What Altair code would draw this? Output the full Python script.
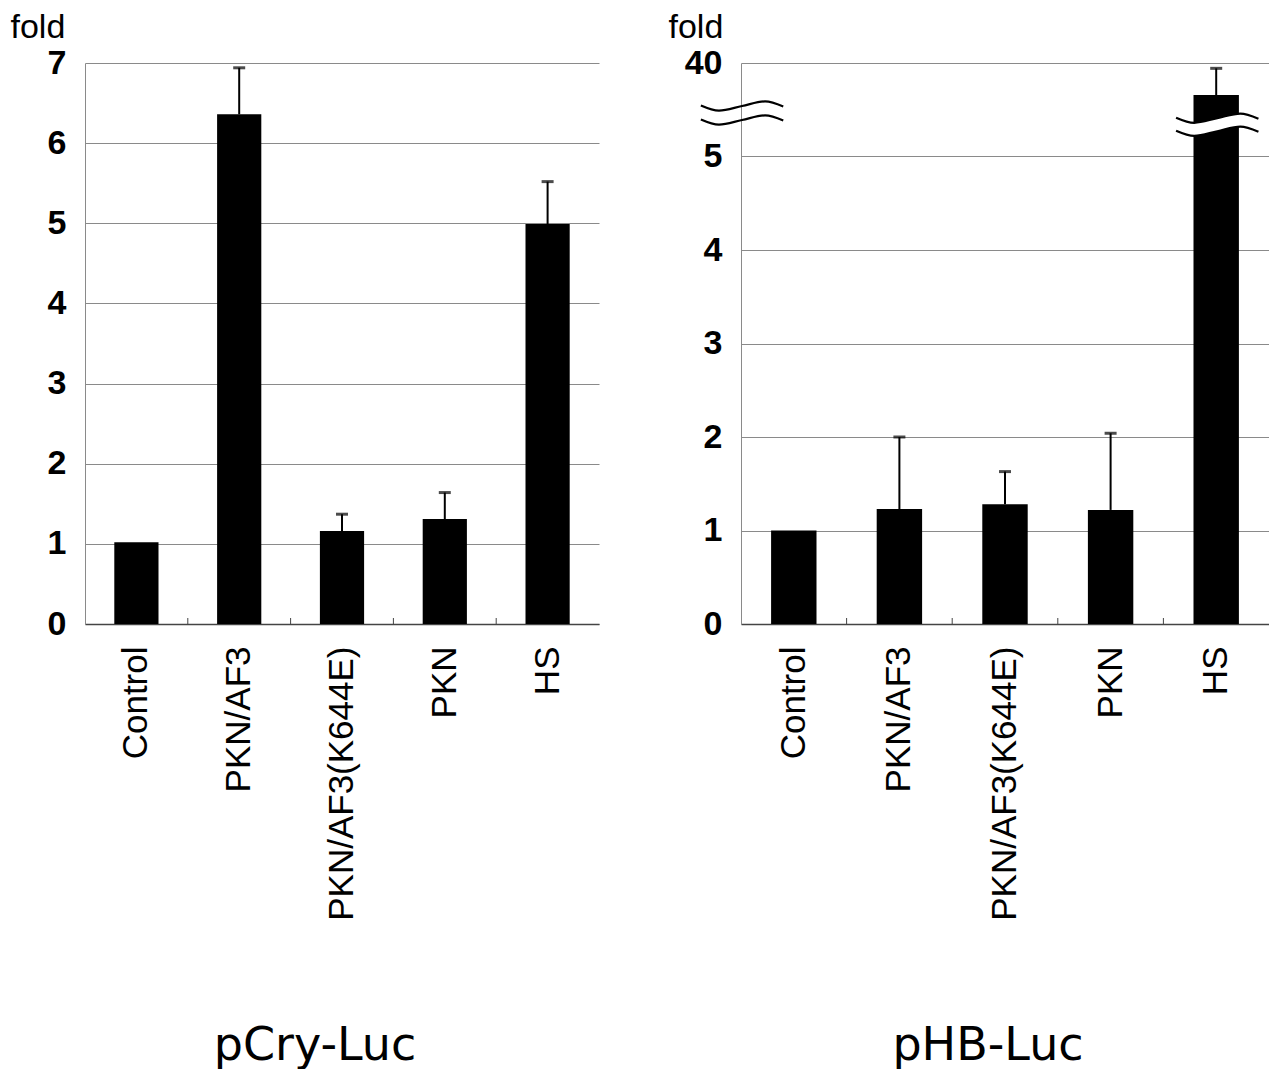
import altair as alt
import pandas as pd

# ---------------- data ----------------
categories = ["Control", "PKN/AF3", "PKN/AF3(K644E)", "PKN", "HS"]

cry_values = [1.02, 6.36, 1.16, 1.31, 4.99]
cry_err_top = [None, 6.94, 1.37, 1.64, 5.52]
cry_ticks = [0, 1, 2, 3, 4, 5, 6, 7]

hb_values = [1.0, 1.23, 1.28, 1.22, 28.0]
hb_err_top = [None, 2.0, 1.63, 2.04, 38.0]
hb_ticks = [0, 1, 2, 3, 4, 5, 40]
hb_break_low = 5
hb_break_high = 40

panel_titles = ["pCry-Luc", "pHB-Luc"]
y_title = "fold"

# axis-break symbol (two parallel waves): shape template and placement
wave_shape_x = [0.0, 0.22, 0.5, 0.78, 1.0]
wave_shape_y = [0.55, 0.05, 0.5, 0.95, 0.45]
# (x from, x to) in category-step units; (upper, lower) wave centres in displayed units
axis_break = {"x": (-0.38, 0.40), "y": (5.54, 5.39)}
bar_break = {"x": (4.12, 4.90), "y": (5.41, 5.27)}
wave_amp = 0.11

# ---------------- style ----------------
H = 561
LABEL_FONT = "Liberation Sans"
TITLE_FONT = "DejaVu Sans"
GRID = "#8a8a8a"
PAD_INNER = 0.57


def disp_expr(field, broken):
    if not broken:
        return f"datum.{field}"
    # compressed (broken) axis: above the break, the whole 5..40 span takes one unit
    return (f"datum.{field} == null ? null : (datum.{field} <= {hb_break_low} ? datum.{field} : "
            f"{hb_break_low} + (datum.{field} - {hb_break_low}) / ({hb_break_high} - {hb_break_low}))")


def wave_frames(spec):
    x0, x1 = spec["x"]
    yt, yb = spec["y"]
    rows, wide = [], []
    for sx, sy in zip(wave_shape_x, wave_shape_y):
        bx = x0 + sx * (x1 - x0)
        off = (sy - 0.5) * wave_amp
        rows.append({"bx": bx, "y": yt + off, "part": "upper"})
        rows.append({"bx": bx, "y": yb + off, "part": "lower"})
        wide.append({"bx": bx, "yt": yt + off, "yb": yb + off})
    return pd.DataFrame(rows), pd.DataFrame(wide)


def wave_layers(spec, x_scale, white_gap):
    long_df, wide_df = wave_frames(spec)
    xq = alt.X("bx:Q", scale=x_scale, axis=None)
    out = []
    if white_gap:
        out.append(alt.Chart(wide_df).mark_area(color="white", interpolate="monotone", opacity=1)
                   .encode(x=xq, y="yt:Q", y2="yb:Q"))
    out.append(alt.Chart(long_df).mark_line(color="black", strokeWidth=2.2, interpolate="monotone")
               .encode(x=xq, y="y:Q", detail="part:N", order="bx:Q"))
    return out


def panel(values, errs, ticks, width, title, title_x, dx, broken):
    df = pd.DataFrame({"cat": categories, "val": values, "err": errs})
    if broken:
        disp_ticks = [t if t <= hb_break_low else hb_break_low + (t - hb_break_low) / (hb_break_high - hb_break_low)
                      for t in ticks]
        label_expr = f"datum.value > {hb_break_low} ? '{ticks[-1]}' : datum.label"
    else:
        disp_ticks = ticks
        label_expr = "datum.label"
    ymax = disp_ticks[-1]

    base = alt.Chart(df).transform_calculate(dv=disp_expr("val", broken), de=disp_expr("err", broken))

    x_scale = alt.Scale(domain=categories, paddingInner=PAD_INNER, paddingOuter=PAD_INNER / 2)
    x_enc = alt.X(
        "cat:N", sort=categories, title=None, scale=x_scale,
        axis=alt.Axis(labelAngle=-90, labelAlign="right", labelBaseline="middle",
                      labelFont=LABEL_FONT, labelFontSize=35, labelColor="black",
                      labelPadding=22, labelLimit=0, ticks=False, domainColor="#444",
                      domainWidth=1.5, grid=False),
    )
    x_plain = alt.X("cat:N", sort=categories, scale=x_scale, title=None)
    y_scale = alt.Scale(domain=[0, ymax], nice=False, zero=True)
    y_enc = alt.Y(
        "dv:Q", scale=y_scale,
        axis=alt.Axis(values=disp_ticks, format="d", labelExpr=label_expr, title=y_title,
                      titleAngle=0, titleX=title_x, titleY=-26, titleAlign="left",
                      titleBaseline="alphabetic", titleFont=LABEL_FONT, titleFontSize=34,
                      titleFontWeight="normal", titleColor="black",
                      labelFont=LABEL_FONT, labelFontSize=34, labelFontWeight="bold",
                      labelColor="black", labelPadding=19, labelOverlap=False,
                      ticks=False, grid=True, gridColor=GRID, gridWidth=1,
                      domainColor=GRID, domainWidth=1),
    )

    bars = base.mark_bar(color="black").encode(x=x_enc, y=y_enc)

    err_data = base.transform_filter("datum.err != null")
    stems = err_data.mark_rule(color="black", strokeWidth=2).encode(
        x=x_plain, y="de:Q", y2="dv:Q")
    caps = err_data.mark_tick(color="black", thickness=3, size=12).encode(
        x=x_plain, y="de:Q")

    # small inward ticks at the category boundaries
    step = width / len(categories)
    bticks = alt.Chart(pd.DataFrame({"cat": categories[1:]})).mark_rule(
        color="#444", strokeWidth=1, xOffset=-(PAD_INNER / 2) * step).encode(
        x=alt.X("cat:N", sort=categories, scale=x_scale, title=None, bandPosition=0),
        y=alt.value(H), y2=alt.value(H - 6))

    chart = alt.layer(bars, stems, caps, bticks)

    if broken:
        wx = alt.Scale(domain=[0, len(categories)], nice=False, zero=False)
        waves = alt.layer(*(wave_layers(bar_break, wx, True) + wave_layers(axis_break, wx, False)))
        chart = alt.layer(chart, waves).resolve_scale(x="independent")

    return chart.properties(
        width=width, height=H,
        title=alt.TitleParams(text=title, orient="bottom", anchor="middle", frame="group",
                              dx=dx, offset=104, font=TITLE_FONT, fontSize=46,
                              fontWeight="normal", color="black"),
    )


left = panel(cry_values, cry_err_top, cry_ticks, 514, panel_titles[0], -75, -27, False)
right = panel(hb_values, hb_err_top, hb_ticks, 528, panel_titles[1], -73, -17, True)

chart = alt.hconcat(left, right, spacing=69).properties(
    padding={"left": 10, "top": 10, "right": 0, "bottom": 0},
    background="white",
).configure_view(stroke=None)

chart.save("out.html", embed_options={"renderer": "svg", "actions": False})
